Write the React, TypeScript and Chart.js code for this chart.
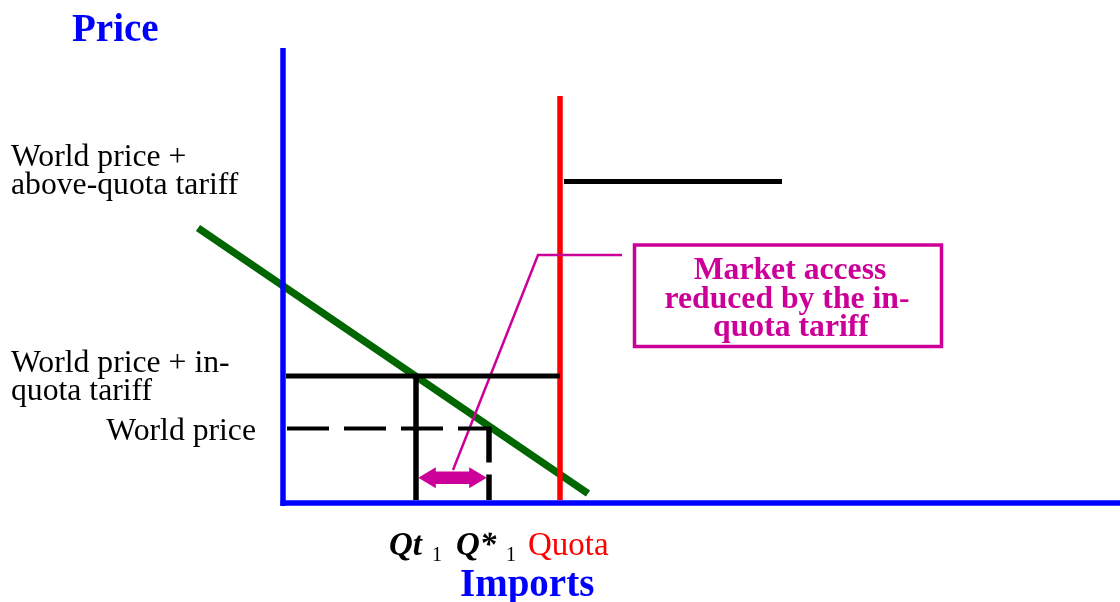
import React, { useEffect, useRef } from "react";
import { Chart, registerables } from "chart.js";

Chart.register(...registerables);

// Price levels (price units)
const worldPrice = 7.45;
const inQuotaPrice = 12.7;
const aboveQuotaPrice = 32.15;
// Quantities (import units)
const quota = 27.6;
const qt1 = 13.2;
const qStar1 = 20.5;
// Demand curve end points
const demandX = [-8.6, 30.4];
const demandY = [27.5, 0.95];
// Axis extents
const xAxisEnd = 83.6;
const yAxisTop = 45.5;
const quotaTop = 40.7;
const aboveQuotaEnd = 49.8;
// Market access arrow & leader
const arrowY = 2.52;
const leaderX = [16.9, 25.4, 33.8];
const leaderY = [3.3, 24.8, 24.8];

// Label texts
const priceTitle = "Price";
const importsTitle = "Imports";
const aboveLabel = ["World price +", "above-quota tariff"];
const inQuotaLabel = ["World price + in-", "quota tariff"];
const worldLabel = "World price";
const boxLabel = ["Market access", "reduced by the in-", "quota tariff"];

const BLUE = "#0000FF";
const RED = "#FF0000";
const GREEN = "#006600";
const MAGENTA = "#CC0099";
const BLACK = "#000000";

const seg = (xs: number[], ys: number[]) => xs.map((x, i) => ({ x, y: ys[i] }));

const labelsPlugin = {
  id: "econLabels",
  afterDatasetsDraw(chart: any) {
    const ctx = chart.ctx;
    const xs = chart.scales.x;
    const ys = chart.scales.y;
    const px = (v: number) => xs.getPixelForValue(v);
    const py = (v: number) => ys.getPixelForValue(v);
    ctx.save();

    // Double arrow
    const ax1 = px(qt1) + 2.3;
    const ax2 = px(qStar1) - 2.3;
    const ay = py(arrowY);
    const head = 17.5;
    const hh = 10.5;
    const sh = 6.3;
    ctx.fillStyle = MAGENTA;
    ctx.beginPath();
    ctx.moveTo(ax1, ay);
    ctx.lineTo(ax1 + head, ay - hh);
    ctx.lineTo(ax1 + head, ay - sh);
    ctx.lineTo(ax2 - head, ay - sh);
    ctx.lineTo(ax2 - head, ay - hh);
    ctx.lineTo(ax2, ay);
    ctx.lineTo(ax2 - head, ay + hh);
    ctx.lineTo(ax2 - head, ay + sh);
    ctx.lineTo(ax1 + head, ay + sh);
    ctx.lineTo(ax1 + head, ay + hh);
    ctx.closePath();
    ctx.fill();

    // Box
    ctx.strokeStyle = MAGENTA;
    ctx.lineWidth = 3.5;
    ctx.strokeRect(634.5, 245, 307, 101.5);

    ctx.textBaseline = "alphabetic";
    // Box text
    ctx.font = "bold 31.7px 'Liberation Serif'";
    ctx.textAlign = "center";
    ctx.fillStyle = MAGENTA;
    ctx.fillText(boxLabel[0], 790, 279);
    ctx.fillText(boxLabel[1], 787, 308);
    ctx.fillText(boxLabel[2], 791, 336);

    // Titles
    ctx.fillStyle = BLUE;
    ctx.font = "bold 39px 'Liberation Serif'";
    ctx.textAlign = "left";
    ctx.fillText(priceTitle, 72, 41);
    ctx.fillText(importsTitle, 460, 596);

    // Price labels
    ctx.fillStyle = BLACK;
    ctx.font = "31.7px 'Liberation Serif'";
    ctx.fillText(aboveLabel[0], 11, 166);
    ctx.fillText(aboveLabel[1], 11, 194);
    ctx.fillText(inQuotaLabel[0], 11, 372);
    ctx.fillText(inQuotaLabel[1], 11, 400);
    ctx.textAlign = "right";
    ctx.fillText(worldLabel, 256, 440);

    // Quantity labels
    ctx.textAlign = "left";
    ctx.font = "italic bold 33px 'Liberation Serif'";
    ctx.fillText("Qt", px(qt1) - 27, 555);
    ctx.fillText("Q*", px(qStar1) - 33, 555);
    ctx.font = "20px 'Liberation Serif'";
    ctx.fillText("1", px(qt1) + 16, 561);
    ctx.fillText("1", px(qStar1) + 17, 561);
    ctx.fillStyle = RED;
    ctx.font = "33px 'Liberation Serif'";
    ctx.fillText("Quota", px(quota) - 32, 555);

    ctx.restore();
  },
};

export default function App() {
  const ref = useRef<HTMLCanvasElement | null>(null);
  useEffect(() => {
    if (!ref.current) return;
    const line = (data: any[], color: string, width: number, dash: number[] = []) => ({
      type: "line" as const,
      data,
      borderColor: color,
      borderWidth: width,
      borderDash: dash,
      pointRadius: 0,
      fill: false,
      tension: 0,
      showLine: true,
    });
    const chart = new Chart(ref.current, {
      type: "scatter",
      data: {
        datasets: [
          line(seg([-0.1, -0.1], [-0.3, yAxisTop]), BLUE, 5.5),
          line(seg([-0.35, xAxisEnd], [0, 0]), BLUE, 5.5),
          line(seg([0.2, quota], [inQuotaPrice, inQuotaPrice]), BLACK, 5),
          line(seg([0.3, qStar1 + 0.25], [worldPrice, worldPrice]), BLACK, 4, [42, 15]),
          line(seg([qt1, qt1], [inQuotaPrice, 0.3]), BLACK, 5.5),
          line(seg([qStar1, qStar1], [worldPrice, 0.3]), BLACK, 5.5, [34, 12]),
          line(seg([quota + 0.4, aboveQuotaEnd], [aboveQuotaPrice, aboveQuotaPrice]), BLACK, 5),
          line(seg(leaderX, leaderY), MAGENTA, 2.5),
          line(seg([quota, quota], [0.3, quotaTop]), RED, 5.5),
          line(seg(demandX, demandY), GREEN, 7.5),
        ],
      },
      options: {
        animation: false,
        responsive: false,
        devicePixelRatio: 1,
        events: [],
        layout: { padding: 0 },
        plugins: { legend: { display: false }, tooltip: { enabled: false } },
        scales: {
          x: { type: "linear", min: -28.4, max: 83.6, display: false },
          y: { type: "linear", min: -9.9, max: 50.3, display: false },
        },
      },
      plugins: [labelsPlugin],
    });
    return () => chart.destroy();
  }, []);
  return (
    <div style={{ position: "absolute", left: 0, top: 0, width: 1120, height: 602, background: "#fff" }}>
      <canvas ref={ref} width={1120} height={602} style={{ width: 1120, height: 602 }} />
    </div>
  );
}
